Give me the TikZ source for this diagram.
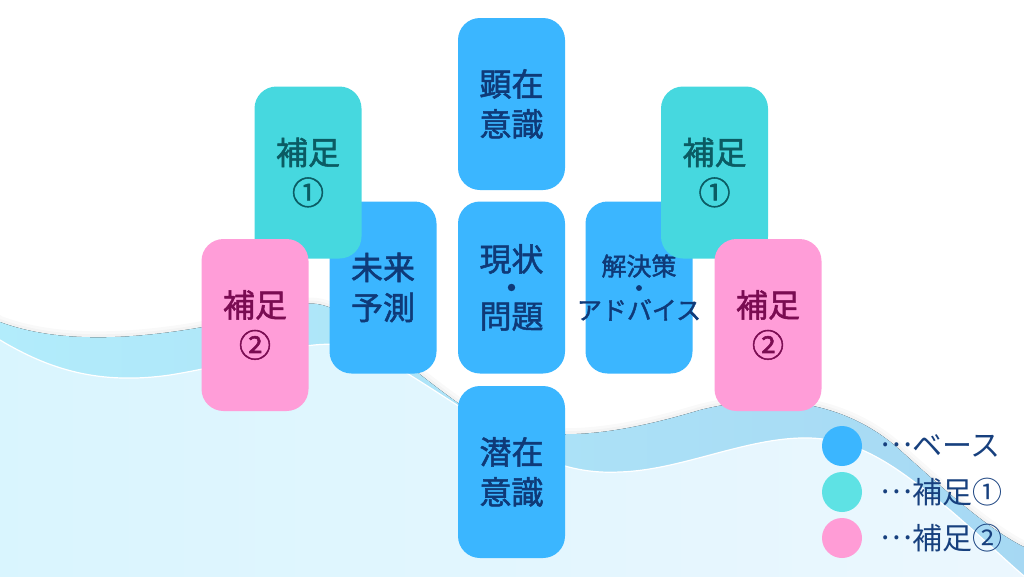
\documentclass[tikz,border=0pt]{standalone}
\usepackage{fontspec}
\newfontfamily\jpfont{Noto Sans CJK JP}
\newfontfamily\jpmed{Noto Sans CJK JP}[FakeBold=1.6]
\usetikzlibrary{positioning}
\definecolor{basecol}{HTML}{3BB6FF}
\definecolor{basetext}{HTML}{0F3A78}
\definecolor{tealcol}{HTML}{46D8DF}
\definecolor{tealtext}{HTML}{0B5B63}
\definecolor{pinkcol}{HTML}{FF9DD8}
\definecolor{pinktext}{HTML}{7A0C52}
\definecolor{keyteal}{HTML}{5EE2E4}
\definecolor{keypink}{HTML}{FF9CD6}
\definecolor{keytext}{HTML}{17407E}
\definecolor{bandleft}{HTML}{B2ECFB}
\definecolor{bandright}{HTML}{A6D8F3}
\definecolor{paleleft}{HTML}{D9F5FE}
\definecolor{paleright}{HTML}{ECF7FE}
\newcommand{\dotsmid}{\raisebox{0.33em}{…}}

\begin{document}
\begin{tikzpicture}[x=1pt,y=-1pt,
		card/.style={rounded corners=22pt, minimum width=107pt, minimum height=172pt,
			inner sep=0pt, align=center, font=\jpmed\fontsize{32}{40}\selectfont},
		basecard/.style={card, fill=basecol, text=basetext},
		tealcard/.style={card, fill=tealcol, text=tealtext},
		pinkcard/.style={card, fill=pinkcol, text=pinktext},
		keydot/.style={circle, minimum size=40pt, inner sep=0pt},
		keylabel/.style={inner sep=0pt, text=keytext, font=\jpfont\fontsize{30}{36}\selectfont},
		]
		\useasboundingbox (0,0) rectangle (1024,576);
		% waves
		\foreach \w in {12,6}
		\draw[black, opacity=0.025, line width=\w pt] (-10,316) -- (0,322) .. controls (70,348) and (170,340) .. (300,305)
			.. controls (340,295) and (370,340) .. (458,403) .. controls (520,447) and (600,440) .. (700,410)
			.. controls (780,390) and (850,405) .. (900,450) .. controls (950,495) and (990,530) .. (1024,547);
		\fill[left color=bandleft, right color=bandright] (-10,316) -- (0,322) .. controls (70,348) and (170,340) .. (300,305)
			.. controls (340,295) and (370,340) .. (458,403) .. controls (520,447) and (600,440) .. (700,410)
			.. controls (780,390) and (850,405) .. (900,450) .. controls (950,495) and (990,530) .. (1024,547)
			-- (1040,600) -- (-10,600) -- cycle;
		\draw[white, line width=1.2pt, left color=paleleft, right color=paleright] (-10,334) -- (0,340)
			.. controls (50,370) and (100,385) .. (170,375) .. controls (250,362) and (300,340) .. (340,345)
			.. controls (375,350) and (410,375) .. (460,407) .. controls (520,450) and (560,475) .. (620,472)
			.. controls (680,470) and (740,440) .. (800,438) .. controls (860,436) and (900,470) .. (950,510)
			.. controls (985,540) and (1005,560) .. (1024,576) -- (1040,600) -- (-10,600) -- cycle;

		% cards
		\node[basecard] (kenzai) at (511.5,104) {顕在\\意識};
		\node[basecard, font=\jpmed\fontsize{32}{28.5}\selectfont] (genjo) at (511.5,287.5) {現状\\・\\問題};
		\node[basecard] (senzai) at (511.5,472) {潜在\\意識};
		\node[basecard] (mirai) at (383,287.5) {未来\\予測};
		\node[basecard, font=\jpmed\fontsize{25}{22}\selectfont] (kaiketsu) at (639,287.5) {解決策\\・\\\makebox[0pt]{アドバイス}};
		\node[tealcard] (hosokuAl) at (308,172.5) {補足\\①};
		\node[tealcard] (hosokuAr) at (714.5,172.5) {補足\\①};
		\node[pinkcard] (hosokuBl) at (255,325) {補足\\②};
		\node[pinkcard] (hosokuBr) at (768,325) {補足\\②};

		% key
		\foreach \col/\txt [count=\i] in {basecol/ベース, keyteal/補足①, keypink/補足②}
		{
			\node[keydot, fill=\col] (key\i) at (842,400+46*\i) {};
			\node[keylabel, right=18pt of key\i] (keytxt\i) {\dotsmid\txt};
		};
	\end{tikzpicture}
\end{document}
